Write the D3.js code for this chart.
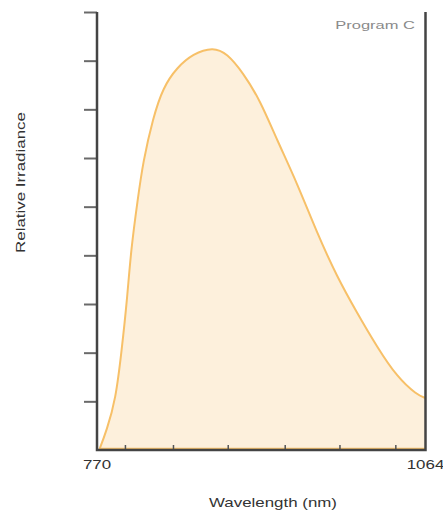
<!DOCTYPE html>
<html>
<head>
<meta charset="utf-8">
<script src="https://cdn.jsdelivr.net/npm/d3@7"></script>
<style>
  body { margin: 0; background: #fff; }
  text { font-family: "Liberation Sans", Arial, sans-serif; }
</style>
</head>
<body>
<div id="chart-area"></div>
<script>
// wavelength (nm) and relative irradiance (axis units, 9 = top tick)
const wavelengths = [772, 778.7, 786.7, 792.1, 796.9, 800.4, 806.4, 811.2, 820.1, 829.1, 841.6, 855.9,
    873.8, 886.4, 900.7, 915.9, 931.1, 949, 966.9, 984.8, 1002.7, 1020.6, 1038.5, 1056.4, 1064];
const irradiance = [0, 0.41, 1.03, 2.05, 3.08, 4.11, 5.14, 5.92, 6.82, 7.45, 7.86, 8.14,
    8.28, 8.15, 7.75, 7.19, 6.37, 5.49, 4.46, 3.56, 2.82, 2.12, 1.5, 1.13, 1.07];
const xTicks = [795, 838, 887, 938, 987, 1037];
const xTickLabels = [770, 1064];
const yTicks = [1, 2, 3, 4, 5, 6, 7, 8, 9];
const programLabel = 'Program C';

const chartWidth = 443, chartHeight = 514;
const plotLeft = 97, plotRight = 425.5, plotTop = 12, plotBottom = 450;

const svg = d3.select("#chart-area").append("svg")
    .attr("width", chartWidth)
    .attr("height", chartHeight);

const x = d3.scaleLinear()
    .domain([770, 1064])
    .range([plotLeft, plotRight]);

const y = d3.scaleLinear()
    .domain([0, 9])
    .range([plotBottom, plotTop]);

const data = wavelengths.map((w, i) => ({ w: w, v: irradiance[i] }));

const area = d3.area()
    .x(d => x(d.w))
    .y0(y(0))
    .y1(d => y(d.v))
    .curve(d3.curveBasis);

const line = d3.line()
    .x(d => x(d.w))
    .y(d => y(d.v))
    .curve(d3.curveBasis);

svg.append("path")
    .datum(data)
    .attr("d", area)
    .attr("fill", "#fdf0dc");

svg.append("path")
    .datum(data)
    .attr("d", line)
    .attr("fill", "none")
    .attr("stroke", "#f7c068")
    .attr("stroke-width", 2);

// thin orange baseline under the fill
svg.append("line")
    .attr("x1", x(wavelengths[0]))
    .attr("x2", x(1064))
    .attr("y1", y(0) - 1.5)
    .attr("y2", y(0) - 1.5)
    .attr("stroke", "#f7c068")
    .attr("stroke-width", 1.5);

// y axis ticks (outward, no labels)
const yAxisCall = d3.axisLeft(y)
    .tickValues(yTicks)
    .tickSize(13)
    .tickFormat("");
const yAxis = svg.append("g")
    .attr("transform", `translate(${plotLeft}, 0)`)
    .call(yAxisCall);
yAxis.select(".domain").remove();
yAxis.selectAll(".tick line")
    .attr("stroke", "#6a6a6a")
    .attr("stroke-width", 2);

// x axis ticks (inward)
const xAxisCall = d3.axisBottom(x)
    .tickValues(xTicks)
    .tickSize(-5)
    .tickFormat("");
const xAxis = svg.append("g")
    .attr("transform", `translate(0, ${plotBottom})`)
    .call(xAxisCall);
xAxis.select(".domain").remove();
xAxis.selectAll(".tick line")
    .attr("stroke", "#555")
    .attr("stroke-width", 1.5);

// frame lines
svg.append("path")
    .attr("d", `M${plotLeft},${plotTop}V${plotBottom}H${plotRight}V${plotTop}`)
    .attr("fill", "none")
    .attr("stroke", "#444")
    .attr("stroke-width", 2.5);

// tick labels at the ends
svg.selectAll(".xlabel")
    .data(xTickLabels)
    .enter().append("text")
    .attr("class", "xlabel")
    .attr("transform", d => `translate(${x(d)}, 469) scale(1.3, 1)`)
    .attr("text-anchor", "middle")
    .attr("font-size", 13)
    .attr("fill", "#333")
    .text(d => d);

svg.append("text")
    .attr("transform", `translate(273, 507) scale(1.3, 1)`)
    .attr("text-anchor", "middle")
    .attr("font-size", 13)
    .attr("fill", "#333")
    .text("Wavelength (nm)");

svg.append("text")
    .attr("transform", `translate(25, 182.5) rotate(-90) scale(1.3, 1)`)
    .attr("text-anchor", "middle")
    .attr("font-size", 13)
    .attr("fill", "#333")
    .text("Relative Irradiance");

svg.append("text")
    .attr("transform", `translate(415, 29) scale(1.5, 1)`)
    .attr("text-anchor", "end")
    .attr("font-size", 11)
    .attr("fill", "#8a8a8a")
    .text(programLabel);
</script>
</body>
</html>
